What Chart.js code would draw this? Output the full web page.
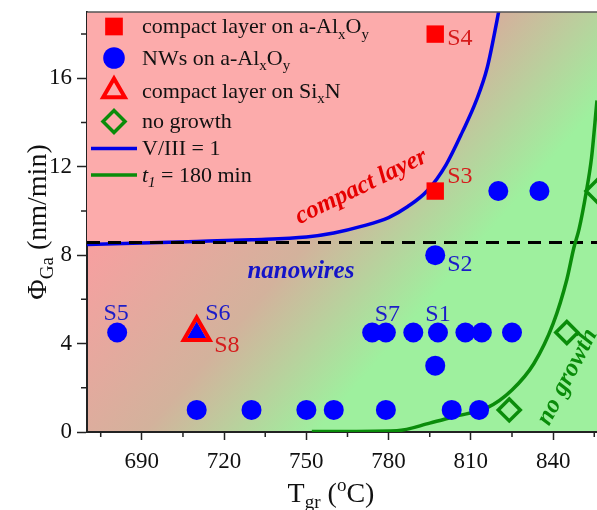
<!DOCTYPE html>
<html>
<head>
<meta charset="utf-8">
<script src="https://cdn.jsdelivr.net/npm/chart.js@4.4.1/dist/chart.umd.min.js"></script>
<style>
  html, body { margin: 0; padding: 0; background: #fff; }
  #wrap { width: 597px; height: 510px; }
</style>
</head>
<body>
<div id="wrap"><canvas id="phaseChart" width="597" height="510"></canvas></div>
<script>
// growth temperature (°C) vs Ga flux (nm/min)
const xTicks = [690, 720, 750, 780, 810, 840];
const xMinorTicks = [675, 705, 735, 765, 795, 825, 855];
const yTicks = [0, 4, 8, 12, 16];
const yMinorTicks = [2, 6, 10, 14, 18];

// compact layer on a-AlxOy
const compactT = [797, 797];
const compactPhi = [10.9, 18];

// NWs on a-AlxOy
const nwT = [681, 710, 730, 750, 760, 779, 803, 813, 774, 779, 789, 798, 808, 814, 825, 797, 797, 820, 835];
const nwPhi = [4.5, 1, 1, 1, 1, 1, 1, 1, 4.5, 4.5, 4.5, 4.5, 4.5, 4.5, 4.5, 3, 8, 10.9, 10.9];

// on SixN
const nwSiT = [710];
const nwSiPhi = [4.5];
const compactSiT = [710];
const compactSiPhi = [4.5];

// no growth
const noGrowthT = [824, 845, 856];
const noGrowthPhi = [1, 4.5, 10.9];

// V/III = 1 boundary
const v3T = [670, 690, 710, 730, 750, 760, 770, 780, 787, 794, 801, 807, 812, 816, 819.5, 821];
const v3Phi = [8.48, 8.55, 8.62, 8.7, 8.82, 9.0, 9.3, 9.7, 10.2, 10.9, 12.1, 13.6, 15.0, 16.5, 18.6, 19.6];

// t1 = 180 min boundary
const t1T = [752, 783, 795, 804, 816, 825, 833, 840, 845, 847.5, 849.5, 852, 854, 856, 858];
const t1Phi = [0.02, 0.06, 0.4, 0.7, 1.1, 1.9, 3.1, 4.9, 6.9, 8.3, 9.2, 10.8, 12.4, 15, 17.5];

// threshold flux
const thresholdT = [670, 856];
const thresholdPhi = [8.57, 8.57];

// sample names
const sampleNames = ['S1', 'S2', 'S3', 'S4', 'S5', 'S6', 'S7', 'S8'];
const sampleT = [798, 797, 797, 797, 681, 710, 779, 710];
const samplePhi = [4.5, 8, 10.9, 18, 4.5, 4.5, 4.5, 4.5];

const SERIF = "'Liberation Serif', 'Times New Roman', serif";
const BLUE = '#0000ff';
const RED = '#ff0000';
const GREEN = '#0a8c0a';

const pts = (xs, ys) => xs.map((x, i) => ({ x, y: ys[i] }));

// label placement around each sample point: [dx, dy, align, color]
const sampleStyle = {
  S1: [0, -12, 'center', '#1c1cc8'],
  S2: [12, 16, 'left', '#1c1cc8'],
  S3: [12, -8, 'left', '#d61c1c'],
  S4: [12, 11, 'left', '#d61c1c'],
  S5: [-1, -12.5, 'center', '#1c1cc8'],
  S6: [8.5, -12.5, 'left', '#1c1cc8'],
  S7: [1.5, -12, 'center', '#1c1cc8'],
  S8: [17.5, 19, 'left', '#d61c1c']
};

function fontFor(p, size) {
  const sz = p.s ? size * 0.68 : size;
  return `${p.i ? 'italic ' : ''}${sz}px ${SERIF}`;
}

function drawRich(ctx, parts, x, y, size, align) {
  ctx.textAlign = 'left';
  ctx.textBaseline = 'alphabetic';
  let w = 0;
  parts.forEach(p => { ctx.font = fontFor(p, size); w += ctx.measureText(p.t).width; });
  let cx = align === 'center' ? x - w / 2 : x;
  parts.forEach(p => {
    ctx.font = fontFor(p, size);
    const dy = p.s === 'sub' ? size * 0.24 : p.s === 'sup' ? -size * 0.36 : 0;
    ctx.fillText(p.t, cx, y + dy);
    cx += ctx.measureText(p.t).width;
  });
}

const legendRows = [
  { ds: 0, r: 12.5, y: 26.5, text: [{ t: 'compact layer on a-Al' }, { t: 'x', s: 'sub' }, { t: 'O' }, { t: 'y', s: 'sub' }] },
  { ds: 1, r: 10.8, y: 58, text: [{ t: 'NWs on a-Al' }, { t: 'x', s: 'sub' }, { t: 'O' }, { t: 'y', s: 'sub' }] },
  { ds: 3, r: 12.5, y: 91, text: [{ t: 'compact layer on Si' }, { t: 'x', s: 'sub' }, { t: 'N' }] },
  { ds: 4, r: 11, y: 121.5, text: [{ t: 'no growth' }] },
  { ds: 5, line: true, y: 148.5, text: [{ t: 'V/III = 1' }] },
  { ds: 6, line: true, y: 175, text: [{ t: 't', i: true }, { t: '1', s: 'sub', i: true }, { t: ' = 180 min' }] }
];

const backdrop = {
  id: 'backdrop',
  beforeDraw(chart) {
    const { ctx, chartArea: a } = chart;
    ctx.save();
    ctx.fillStyle = '#fff';
    ctx.fillRect(0, 0, chart.width, chart.height);
    const g = ctx.createLinearGradient(
      a.left + a.width * 0.269, a.top + a.height * 0.2,
      a.left + a.width * 0.699, a.top + a.height * 0.65);
    g.addColorStop(0, '#f6a0a0');
    g.addColorStop(0.55, '#d3b29c');
    g.addColorStop(1, '#9ef09e');
    ctx.fillStyle = g;
    ctx.fillRect(a.left, a.top, a.width, a.height);
    ctx.restore();
  }
};

const decorations = {
  id: 'decorations',
  afterDatasetsDraw(chart) {
    const { ctx, chartArea: a, scales: { x, y } } = chart;
    ctx.save();

    // top frame
    ctx.strokeStyle = '#555';
    ctx.lineWidth = 1.5;
    ctx.beginPath();
    ctx.moveTo(a.left, a.top);
    ctx.lineTo(a.right, a.top);
    ctx.stroke();

    // minor ticks
    ctx.strokeStyle = '#222';
    ctx.lineWidth = 1.5;
    ctx.beginPath();
    xMinorTicks.forEach(v => {
      const px = x.getPixelForValue(v);
      ctx.moveTo(px, a.bottom);
      ctx.lineTo(px, a.bottom + 5);
    });
    yMinorTicks.forEach(v => {
      const py = y.getPixelForValue(v);
      ctx.moveTo(a.left - 6, py);
      ctx.lineTo(a.left, py);
    });
    ctx.stroke();

    // region names
    ctx.font = `italic bold 25px ${SERIF}`;
    ctx.textAlign = 'left';
    ctx.textBaseline = 'alphabetic';
    ctx.fillStyle = '#e60000';
    ctx.save();
    ctx.translate(x.getPixelForValue(747.5), y.getPixelForValue(9.4));
    ctx.rotate(-26 * Math.PI / 180);
    ctx.fillText('compact layer', 0, 0);
    ctx.restore();

    ctx.fillStyle = '#1414c8';
    ctx.fillText('nanowires', x.getPixelForValue(728.5), y.getPixelForValue(6.95));

    ctx.fillStyle = GREEN;
    ctx.save();
    ctx.translate(x.getPixelForValue(838.5), y.getPixelForValue(0.25));
    ctx.rotate(-62.5 * Math.PI / 180);
    ctx.fillText('no growth', 0, 0);
    ctx.restore();

    // sample names
    ctx.font = `24px ${SERIF}`;
    sampleNames.forEach((name, i) => {
      const [dx, dy, align, color] = sampleStyle[name];
      ctx.fillStyle = color;
      ctx.textAlign = align;
      ctx.fillText(name, x.getPixelForValue(sampleT[i]) + dx, y.getPixelForValue(samplePhi[i]) + dy);
    });

    // legend
    const markX = a.left + 27;
    const textX = a.left + 55;
    legendRows.forEach(row => {
      const ds = chart.data.datasets[row.ds];
      if (row.line) {
        ctx.strokeStyle = ds.borderColor;
        ctx.lineWidth = ds.borderWidth;
        ctx.beginPath();
        ctx.moveTo(a.left + 4, row.y);
        ctx.lineTo(a.left + 50, row.y);
        ctx.stroke();
      } else {
        ctx.fillStyle = ds.backgroundColor;
        ctx.strokeStyle = ds.borderColor;
        ctx.lineWidth = ds.borderWidth;
        Chart.helpers.drawPoint(ctx, { pointStyle: ds.pointStyle, radius: row.r, borderWidth: ds.borderWidth, rotation: 0 }, markX, row.y);
      }
      ctx.fillStyle = '#111';
      drawRich(ctx, row.text, textX, row.y + 6.8, 22, 'left');
    });

    ctx.restore();
  },
  afterDraw(chart) {
    const { ctx, chartArea: a } = chart;
    ctx.save();
    ctx.fillStyle = '#111';
    drawRich(ctx, [{ t: 'T' }, { t: 'gr', s: 'sub' }, { t: ' (' }, { t: 'o', s: 'sup' }, { t: 'C)' }],
      (a.left + a.right) / 2 - 11, 501.5, 28, 'center');
    ctx.translate(46, (a.top + a.bottom) / 2);
    ctx.rotate(-Math.PI / 2);
    drawRich(ctx, [{ t: 'Φ' }, { t: 'Ga', s: 'sub' }, { t: ' (nm/min)' }], 0, 0, 28, 'center');
    ctx.restore();
  }
};

new Chart(document.getElementById('phaseChart'), {
  type: 'scatter',
  data: {
    datasets: [
      { label: 'compact layer on a-AlxOy', data: pts(compactT, compactPhi), pointStyle: 'rect', pointRadius: 12.3,
        backgroundColor: RED, borderColor: RED, borderWidth: 0, order: 2 },
      { label: 'NWs on a-AlxOy', data: pts(nwT, nwPhi), pointStyle: 'circle', pointRadius: 10,
        backgroundColor: BLUE, borderColor: BLUE, borderWidth: 0, order: 2 },
      { label: 'NWs on SixN', data: pts(nwSiT, nwSiPhi), pointStyle: 'triangle', pointRadius: 11,
        backgroundColor: BLUE, borderColor: BLUE, borderWidth: 0, order: 2 },
      { label: 'compact layer on SixN', data: pts(compactSiT, compactSiPhi), pointStyle: 'triangle', pointRadius: 15,
        backgroundColor: 'rgba(0,0,0,0)', borderColor: RED, borderWidth: 4, order: 1 },
      { label: 'no growth', data: pts(noGrowthT, noGrowthPhi), pointStyle: 'rectRot', pointRadius: 11,
        backgroundColor: 'rgba(0,0,0,0)', borderColor: GREEN, borderWidth: 3.5, order: 2 },
      { label: 'V/III = 1', data: pts(v3T, v3Phi), showLine: true, pointRadius: 0, borderColor: '#0000e6',
        borderWidth: 3.5, cubicInterpolationMode: 'monotone', fill: 'end', backgroundColor: '#fcabab', order: 10 },
      { label: 't1 = 180 min', data: pts(t1T, t1Phi), showLine: true, pointRadius: 0, borderColor: GREEN,
        borderWidth: 3.5, cubicInterpolationMode: 'monotone', order: 8 },
      { label: 'threshold', data: pts(thresholdT, thresholdPhi), showLine: true, pointRadius: 0, borderColor: '#000',
        borderWidth: 3, borderDash: [13, 8], order: 9 }
    ]
  },
  options: {
    responsive: false,
    animation: false,
    devicePixelRatio: 1,
    events: [],
    layout: { autoPadding: false, padding: { top: 12, left: 0, right: 0, bottom: 0 } },
    plugins: {
      legend: { display: false },
      tooltip: { enabled: false }
    },
    scales: {
      x: {
        type: 'linear',
        min: 670,
        max: 856,
        afterBuildTicks: s => { s.ticks = xTicks.map(v => ({ value: v })); },
        afterFit: s => { s.height = 78; s.paddingLeft = 0; s.paddingRight = 0; },
        grid: { drawOnChartArea: false, tickLength: 8, tickWidth: 1.5, tickColor: '#222' },
        border: { display: true, color: '#222', width: 2 },
        ticks: { autoSkip: false, maxRotation: 0, padding: 8, color: '#111', font: { family: SERIF, size: 23 } }
      },
      y: {
        type: 'linear',
        min: 0,
        max: 19,
        afterBuildTicks: s => { s.ticks = yTicks.map(v => ({ value: v })); },
        afterFit: s => { s.width = 87; s.paddingTop = 0; s.paddingBottom = 0; },
        grid: { drawOnChartArea: false, tickLength: 10, tickWidth: 1.5, tickColor: '#222' },
        border: { display: true, color: '#222', width: 2 },
        ticks: { padding: 5, color: '#111', font: { family: SERIF, size: 23 } }
      }
    }
  },
  plugins: [backdrop, decorations]
});
</script>
</body>
</html>
